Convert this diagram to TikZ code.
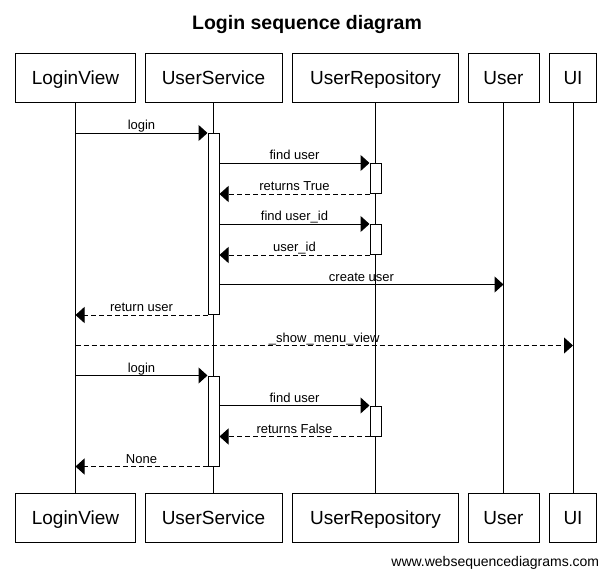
\documentclass[tikz,border=0pt]{standalone}
\usepackage{fontspec}
\setmainfont{Liberation Sans}
\usetikzlibrary{arrows.meta}
\begin{document}
\begin{tikzpicture}[x=1pt,y=-1pt,line width=1pt,
  every node/.style={font=\fontsize{13}{15}\selectfont},
  partbox/.style={draw,fill=white,minimum height=49pt,inner sep=0pt,text height=18pt,text depth=4pt,font=\fontsize{19}{22}\selectfont},
  actbar/.style={draw,fill=white,minimum width=11pt,inner sep=0pt},
  call/.style={-{Triangle[length=9pt,width=16pt]}},
  reply/.style={call,dash pattern=on 5pt off 3pt},
  msg/.style={midway,anchor=base,yshift=3.5pt,inner sep=0pt}]
\useasboundingbox (0,0) rectangle (611,576);
\node[font=\bfseries\fontsize{19.5}{22}\selectfont,anchor=base] (title) at (307,29.5) {Login sequence diagram};
\node[partbox,minimum width=120pt] (lvT) at (75.5,77.5) {LoginView};
\node[partbox,minimum width=137pt] (svT) at (213.5,77.5) {UserService};
\node[partbox,minimum width=166pt] (rpT) at (375.5,77.5) {UserRepository};
\node[partbox,minimum width=71pt] (usT) at (503.5,77.5) {User};
\node[partbox,minimum width=47pt] (uiT) at (573,77.5) {UI};
\node[partbox,minimum width=120pt] (lvB) at (75.5,517.5) {LoginView};
\node[partbox,minimum width=137pt] (svB) at (213.5,517.5) {UserService};
\node[partbox,minimum width=166pt] (rpB) at (375.5,517.5) {UserRepository};
\node[partbox,minimum width=71pt] (usB) at (503.5,517.5) {User};
\node[partbox,minimum width=47pt] (uiB) at (573,517.5) {UI};
\draw (lvT) -- (lvB);
\draw (svT) -- (svB);
\draw (rpT) -- (rpB);
\draw (usT) -- (usB);
\draw (uiT) -- (uiB);
\node[actbar,minimum height=181pt] (svA) at (213.5,224) {};
\node[actbar,minimum height=90pt] (svC) at (213.5,421) {};
\node[actbar,minimum height=30pt] (rpA) at (375.5,178.5) {};
\node[actbar,minimum height=30pt] (rpC) at (375.5,239.5) {};
\node[actbar,minimum height=30pt] (rpE) at (375.5,421) {};
\coordinate (cu) at (0,284.5);
\coordinate (sm) at (0,345.5);
\draw[call] (lvT |- svA.north) -- (svA.north west) node[msg] {login};
\draw[call] (svA.east |- rpA.north) -- (rpA.north west) node[msg] {find user};
\draw[reply] (rpA.south west) -- (svA.east |- rpA.south) node[msg] {returns True};
\draw[call] (svA.east |- rpC.north) -- (rpC.north west) node[msg] {find user\_id};
\draw[reply] (rpC.south west) -- (svA.east |- rpC.south) node[msg] {user\_id};
\draw[call] (svA.east |- cu) -- (usT |- cu) node[msg] {create user};
\draw[reply] (svA.south west) -- (lvT |- svA.south) node[msg] {return user};
\draw[reply] (lvT |- sm) -- (uiT |- sm) node[msg] {\_show\_menu\_view};
\draw[call] (lvT |- svC.north) -- (svC.north west) node[msg] {login};
\draw[call] (svC.east |- rpE.north) -- (rpE.north west) node[msg] {find user};
\draw[reply] (rpE.south west) -- (svC.east |- rpE.south) node[msg] {returns False};
\draw[reply] (svC.south west) -- (lvT |- svC.south) node[msg] {None};
\node[anchor=base east,font=\fontsize{14}{16}\selectfont] (site) at (603,566) {www.websequencediagrams.com};
\end{tikzpicture}
\end{document}
